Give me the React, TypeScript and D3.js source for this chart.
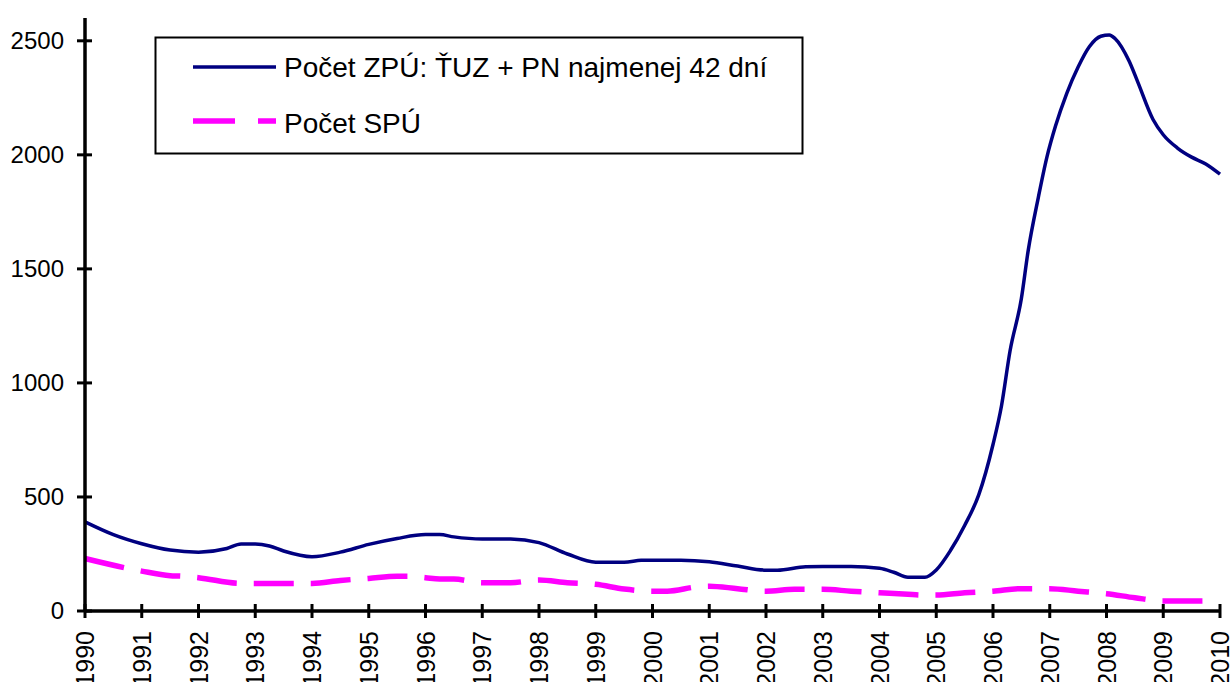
import React, { useEffect, useRef } from "react";
import * as d3 from "d3";

// casove body (roky) a hodnoty pre obe krivky
const zpuYears = [
  1990.0, 1990.5, 1991.0, 1991.5, 1992.0, 1992.5, 1992.75, 1993.0, 1993.25, 1993.5,
  1994.0, 1994.5, 1995.0, 1995.5, 1996.0, 1996.25, 1996.5, 1997.0, 1997.5, 1998.0,
  1998.5, 1999.0, 1999.5, 1999.8, 2000.0, 2000.5, 2001.0, 2001.5, 2002.0, 2002.2,
  2002.7, 2003.0, 2003.5, 2004.0, 2004.25, 2004.5, 2004.8, 2005.0, 2005.25, 2005.5,
  2005.75, 2006.0, 2006.15, 2006.3, 2006.5, 2006.62, 2006.8, 2006.95, 2007.1, 2007.3,
  2007.5, 2007.7, 2007.9, 2008.05, 2008.15, 2008.4, 2008.55, 2008.82, 2009.0, 2009.25,
  2009.5, 2009.75, 2010.0,
];
const zpuValues = [
  391, 335, 295, 267, 258, 274, 294, 294, 285, 263,
  238, 258, 292, 318, 335, 335, 325, 316, 316, 300,
  250, 214, 214, 222, 223, 223, 216, 197, 179, 179,
  194, 195, 195, 187, 170, 148, 148, 180, 265, 375,
  510, 730, 900, 1140, 1370, 1580, 1815, 1990, 2125, 2270,
  2385, 2475, 2520, 2526, 2510, 2410, 2320, 2155, 2088, 2030,
  1990, 1960, 1915,
];

const spuYears = [
  1990.0, 1990.75, 1991.0, 1991.5, 1991.7, 1992.0, 1992.75, 1993.0, 1994.0, 1994.5,
  1995.0, 1995.5, 1995.75, 1996.0, 1996.25, 1996.5, 1997.0, 1997.5, 1998.0, 1998.5,
  1999.0, 1999.5, 2000.0, 2000.26, 2000.76, 2001.0, 2001.5, 2002.0, 2002.5, 2003.0,
  2003.5, 2004.0, 2004.5, 2004.76, 2005.0, 2005.5, 2006.0, 2006.5, 2007.0, 2007.5,
  2008.0, 2008.5, 2009.0, 2009.75,
];
const spuValues = [
  230, 187, 175, 155, 153, 146, 121, 121, 121, 134,
  143, 152, 152, 146, 140, 140, 124, 124, 136, 124,
  117, 96, 87, 87, 105, 109, 98, 87, 95, 95,
  87, 80, 73, 70, 70, 80, 87, 98, 98, 87,
  76, 58, 44, 44,
];

const xTicks = d3.range(1990, 2011);
const yTicks = [0, 500, 1000, 1500, 2000, 2500];

const legendLabels = ["Počet ZPÚ: ŤUZ + PN najmenej 42 dní", "Počet SPÚ"];

const App = () => {
  const chartRef = useRef(null);

  useEffect(() => {
    const svg = d3.select(chartRef.current);
    svg.selectAll("*").remove();

    const width = 1230;
    const height = 682;
    const font = "Arial, 'Liberation Sans', sans-serif";
    svg.attr("width", width).attr("height", height);

    const x = d3.scaleLinear().domain([1990, 2010]).range([85, 1220]);
    const y = d3.scaleLinear().domain([0, 2600]).range([611, 18]);

    const line = d3
      .line()
      .x((d) => x(d[0]))
      .y((d) => y(d[1]))
      .curve(d3.curveMonotoneX);

    const zpu = zpuYears.map((t, i) => [t, zpuValues[i]]);
    const spu = spuYears.map((t, i) => [t, spuValues[i]]);

    // krivky
    svg
      .append("path")
      .attr("d", line(spu))
      .attr("fill", "none")
      .attr("stroke", "#FF00FF")
      .attr("stroke-width", 5.5)
      .attr("stroke-dasharray", "40,17");

    svg
      .append("path")
      .attr("d", line(zpu))
      .attr("fill", "none")
      .attr("stroke", "#000080")
      .attr("stroke-width", 3.5)
      .attr("stroke-linejoin", "round");

    // osi
    svg
      .append("line")
      .attr("x1", x(1990))
      .attr("x2", x(1990))
      .attr("y1", y(2600))
      .attr("y2", y(0))
      .attr("stroke", "#000")
      .attr("stroke-width", 3.5);
    svg
      .append("line")
      .attr("x1", x(1990))
      .attr("x2", x(2010))
      .attr("y1", y(0))
      .attr("y2", y(0))
      .attr("stroke", "#000")
      .attr("stroke-width", 3.5);

    svg
      .selectAll(".ytick")
      .data(yTicks)
      .enter()
      .append("line")
      .attr("x1", x(1990) - 8)
      .attr("x2", x(1990) + 7)
      .attr("y1", (d) => y(d))
      .attr("y2", (d) => y(d))
      .attr("stroke", "#000")
      .attr("stroke-width", 3);

    svg
      .selectAll(".ylab")
      .data(yTicks)
      .enter()
      .append("text")
      .attr("x", 64)
      .attr("y", (d) => y(d))
      .attr("dy", "0.35em")
      .attr("text-anchor", "end")
      .attr("font-family", font)
      .attr("font-size", 24)
      .text((d) => d);

    svg
      .selectAll(".xtick")
      .data(xTicks)
      .enter()
      .append("line")
      .attr("x1", (d) => x(d))
      .attr("x2", (d) => x(d))
      .attr("y1", y(0) - 7)
      .attr("y2", y(0) + 7)
      .attr("stroke", "#000")
      .attr("stroke-width", 3);

    svg
      .selectAll(".xlab")
      .data(xTicks)
      .enter()
      .append("text")
      .attr("transform", (d) => `translate(${x(d)}, 631) rotate(-90)`)
      .attr("dy", "0.36em")
      .attr("text-anchor", "end")
      .attr("font-family", font)
      .attr("font-size", 25)
      .text((d) => d);

    // legenda
    const lg = svg.append("g");
    lg.append("rect")
      .attr("x", 155.5)
      .attr("y", 37.5)
      .attr("width", 647)
      .attr("height", 116)
      .attr("fill", "#fff")
      .attr("stroke", "#000")
      .attr("stroke-width", 2);

    lg.append("line")
      .attr("x1", 193)
      .attr("x2", 276)
      .attr("y1", 67)
      .attr("y2", 67)
      .attr("stroke", "#000080")
      .attr("stroke-width", 3.5);
    lg.append("line")
      .attr("x1", 193)
      .attr("x2", 276)
      .attr("y1", 121)
      .attr("y2", 121)
      .attr("stroke", "#FF00FF")
      .attr("stroke-width", 5.5)
      .attr("stroke-dasharray", "42,23");

    lg.selectAll(".ltext")
      .data(legendLabels)
      .enter()
      .append("text")
      .attr("x", 284)
      .attr("y", (d, i) => 77 + i * 56)
      .attr("font-family", font)
      .attr("font-size", 28)
      .text((d) => d);
  }, []);

  return (
    <svg
      ref={chartRef}
      style={{ position: "absolute", left: 0, top: 0, background: "#fff" }}
    ></svg>
  );
};

export default App;
